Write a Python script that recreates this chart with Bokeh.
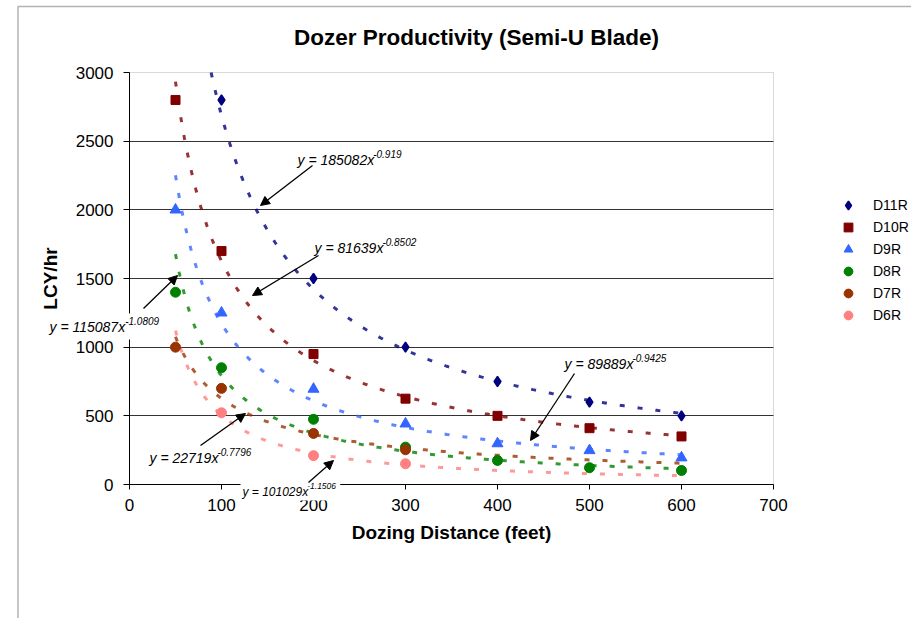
import numpy as np
from bokeh.plotting import figure
from bokeh.models import (Range1d, FixedTicker, Label, Arrow, NormalHead, Legend,
                          LegendItem, BoxAnnotation)
from bokeh.embed import file_html
from bokeh.resources import INLINE

# ---------------- data ----------------
series_names = ["D11R", "D10R", "D9R", "D8R", "D7R", "D6R"]

d11r_x = [100, 200, 300, 400, 500, 600]
d11r_y = [2800, 1500, 1000, 750, 600, 500]
d10r_x = [50, 100, 200, 300, 400, 500, 600]
d10r_y = [2800, 1700, 950, 625, 500, 410, 350]
d9r_x = [50, 100, 200, 300, 400, 500, 600]
d9r_y = [2000, 1250, 695, 442, 298, 248, 195]
d8r_x = [50, 100, 200, 300, 400, 500, 600]
d8r_y = [1400, 850, 475, 272, 175, 122, 102]
d7r_x = [50, 100, 200, 300]
d7r_y = [1000, 700, 372, 253]
d6r_x = [100, 200, 300]
d6r_y = [522, 210, 151]

# power trendlines y = a * x^b (as printed on the chart)
trend_coef = [185082, 81639, 89889, 115087, 22719, 101029]
trend_exp = [-0.919, -0.8502, -0.9425, -1.0809, -0.7796, -1.1506]
trend_x_min, trend_x_max = 50, 600

x_ticks = [0, 100, 200, 300, 400, 500, 600, 700]
y_ticks = [0, 500, 1000, 1500, 2000, 2500, 3000]
X_MAX, Y_MAX = 700, 3000

# ---------------- style ----------------
FONT = "Liberation Sans"
colors = ["#000080", "#800000", "#3366FF", "#008000", "#993300", "#FF8080"]
markers = ["diamond", "square", "triangle", "circle", "circle", "circle"]
sizes = [10, 9, 11, 10, 10, 10]

W, H = 911, 618
FL, FR, FT, FB = 129, 773, 72, 484  # plot-area pixel box


def px2x(px):
    return (px - FL) * X_MAX / (FR - FL)


def px2y(py):
    return (FB - py) * Y_MAX / (FB - FT)


p = figure(width=W, height=H, output_backend="svg", toolbar_location=None,
           x_range=Range1d(px2x(0), px2x(W)), y_range=Range1d(px2y(H), px2y(0)),
           min_border_left=0, min_border_right=0, min_border_top=0, min_border_bottom=0)
p.background_fill_color = "white"
p.border_fill_color = "white"
p.outline_line_color = None

# axes (fixed at the data origin)
for ax in (p.xaxis[0], p.yaxis[0]):
    ax.fixed_location = 0
    ax.axis_line_color = "black"
    ax.major_tick_line_color = "black"
    ax.minor_tick_line_color = None
    ax.major_tick_in = 0
    ax.major_label_text_font = FONT
    ax.major_label_text_font_size = "17px"
    ax.major_label_text_color = "black"
    ax.axis_label_text_font = FONT
    ax.axis_label_text_font_size = "19px"
    ax.axis_label_text_font_style = "bold"
    ax.axis_label_text_color = "black"
p.xaxis.ticker = FixedTicker(ticks=x_ticks)
p.yaxis.ticker = FixedTicker(ticks=y_ticks)
p.xaxis.bounds = (0, X_MAX)
p.yaxis.bounds = (0, Y_MAX)
p.xaxis.major_tick_out = 5
p.yaxis.major_tick_out = 6
p.xaxis.major_label_standoff = 9
p.yaxis.major_label_standoff = 10
p.xaxis.axis_label = "Dozing Distance (feet)"
p.yaxis.axis_label = "LCY/hr"
p.xaxis.axis_label_standoff = 8
p.yaxis.axis_label_standoff = 12

p.xgrid.visible = False
grid = p.ygrid[0]
grid.ticker = FixedTicker(ticks=y_ticks[1:-1])
grid.bounds = (0, Y_MAX)
grid.grid_line_color = "#333333"
grid.grid_line_width = 1
if "cross_bounds" in grid.properties():
    grid.cross_bounds = (0, X_MAX)
else:
    grid.visible = False
    gy = y_ticks[1:-1]
    p.segment(x0=[0] * len(gy), x1=[X_MAX] * len(gy), y0=gy, y1=gy,
              line_color="#333333", line_width=1, level="underlay")

# plot-area border (gray top/right)
p.add_layout(BoxAnnotation(left=0, right=X_MAX, bottom=0, top=Y_MAX, fill_alpha=0,
                           line_color="#808080", line_width=1, level="underlay"))

xs_all = [d11r_x, d10r_x, d9r_x, d8r_x, d7r_x, d6r_x]
ys_all = [d11r_y, d10r_y, d9r_y, d8r_y, d7r_y, d6r_y]

# trendlines, kept inside the value axis maximum
for a, b, c in zip(trend_coef, trend_exp, colors):
    x_start = max(trend_x_min, (Y_MAX / a) ** (1.0 / b))
    tx = np.linspace(x_start, trend_x_max, 400)
    p.line(tx, a * tx ** b, line_color=c, line_width=3, line_dash="5 13", line_alpha=0.8)

# points
items = []
for name, xs, ys, c, m, s in zip(series_names, xs_all, ys_all, colors, markers, sizes):
    r = p.scatter(xs, ys, marker=m, size=s, fill_color=c, line_color=c,
                  line_width=1.5 if m == "diamond" else 1)
    items.append(LegendItem(label=name, renderers=[r]))

legend = Legend(items=items, location=(835, 292), orientation="vertical",
                glyph_width=26, glyph_height=22, label_height=22, spacing=0,
                padding=0, margin=0, label_standoff=12,
                label_text_font=FONT, label_text_font_size="14px",
                label_text_color="black", label_text_baseline="middle",
                border_line_color=None, background_fill_alpha=0)
p.add_layout(legend)

# title
p.add_layout(Label(x=px2x(476), y=px2y(37), text="Dozer Productivity (Semi-U Blade)",
                   text_align="center", text_baseline="middle", text_font=FONT,
                   text_font_size="22.5px", text_font_style="bold", text_color="black"))

# equation annotations
CW = {"y": 0.5, "x": 0.5, " ": 0.278, "=": 0.584, "-": 0.333, ".": 0.278}


def tw(s, size):
    return sum(CW.get(ch, 0.556) for ch in s) * size


eq_pos = [  # (left px, center px, main size, sup size, vertical pad)
    (295, 159, 14, 10, 5),
    (312, 247, 14, 10, 5),
    (562, 363, 14, 10, 5),
    (47, 326, 14, 10, 5),
    (147, 457, 14, 10, 5),
    (240, 491, 12, 8.5, 2),
]
arrow_pos = [
    (312, 165, 260, 205),
    (318, 255, 252, 295),
    (574, 373, 530, 440),
    (143, 308, 177, 275),
    (200, 445, 245, 413),
    (308, 482, 333, 460),
]

for a, b, (lx, cy, ms, ss, vp) in zip(trend_coef, trend_exp, eq_pos):
    main = f"y = {a}x"
    sup = f"{b}"
    mw = tw(main, ms)
    sw = tw(sup, ss)
    p.add_layout(Label(x=px2x(lx), y=px2y(cy), text=main, text_align="left",
                       text_baseline="middle", text_font=FONT, text_font_style="italic",
                       text_font_size=f"{ms}px", text_color="black",
                       background_fill_color="white",
                       padding=dict(left=2, right=int(sw + 4), top=vp, bottom=vp)))
    p.add_layout(Label(x=px2x(lx + mw + 1), y=px2y(cy - ms * 0.42), text=sup, text_align="left",
                       text_baseline="middle", text_font=FONT, text_font_style="italic",
                       text_font_size=f"{ss}px", text_color="black"))

for (x0, y0, x1, y1) in arrow_pos:
    p.add_layout(Arrow(x_start=px2x(x0), y_start=px2y(y0), x_end=px2x(x1), y_end=px2y(y1),
                       line_color="black", line_width=1.3,
                       end=NormalHead(size=9, fill_color="black", line_color="black")))

# chart-area border (left and top edges visible in the window)
p.add_layout(BoxAnnotation(left=px2x(17.5), right=px2x(W + 20), top=px2y(6), bottom=px2y(H + 20),
                           fill_alpha=0, line_color="black", line_width=1.5))

open("out.html", "w").write(file_html(p, INLINE))
